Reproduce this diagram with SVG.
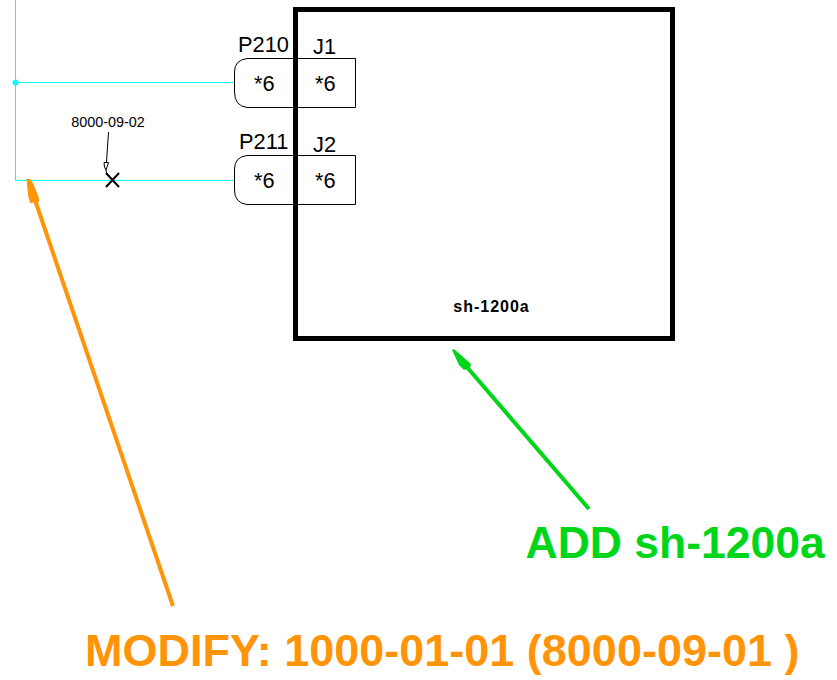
<svg xmlns="http://www.w3.org/2000/svg" width="837" height="680" viewBox="0 0 837 680">
<style>
text{font-family:"Liberation Sans",Arial,sans-serif;fill:#000}
.w{stroke:#00ffff;stroke-width:1;fill:none}
.b{stroke:#000;stroke-width:1;fill:none}
.l{font-size:21.800px}
.big{font-size:45px;font-weight:bold}
</style>
<rect width="837" height="680" fill="#fff"/>
<g id="connectors">
<path class="w" d="M15.500 0V180.500H234M15.500 82.500H234"/>
<circle cx="15.500" cy="82.500" r="3" fill="#00ffff"/>
<path class="b" d="M108.500 132L106.500 162"/>
<path class="b" d="M104 162.500H108.500L106 170 104.500 167Z"/>
<path class="b" d="M106 170L106.500 173"/>
<path d="M106 173L119 187M119 173L106 187" stroke="#000" stroke-width="2" fill="none"/>
</g>
<g id="sh-1200a">
<rect x="295.500" y="9.500" width="377" height="329" fill="none" stroke="#000" stroke-width="5"/>
<text x="491.500" y="312" text-anchor="middle" font-size="16" font-weight="bold" letter-spacing="1">sh-1200a</text>
</g>
<g id="P210">
<path class="b" d="M296 58.500H247Q234.500 60 234.500 72V92Q234.500 106 247 107.500H296"/>
<text class="l" x="238" y="51.500">P210</text>
<text class="l" x="254" y="90.500">*6</text>
</g>
<g id="J1">
<path class="b" d="M296 58.500H355.500V107.500H296"/>
<text class="l" x="313" y="54">J1</text>
<text class="l" x="315" y="90.500">*6</text>
</g>
<g id="P211">
<path class="b" d="M296 155.500H247Q234.500 157 234.500 169V190Q234.500 203 247 204.500H296"/>
<text class="l" x="239" y="149">P211</text>
<text class="l" x="254" y="188">*6</text>
</g>
<g id="J2">
<path class="b" d="M296 155.500H355.500V204.500H296"/>
<text class="l" x="313" y="151.500">J2</text>
<text class="l" x="315" y="188">*6</text>
</g>
<g id="label-8000-09-02">
<text x="108" y="127" text-anchor="middle" font-size="14.400">8000-09-02</text>
</g>
<g id="orange-arrow">
<path d="M173 606L35 200" stroke="#ff9408" stroke-width="4" fill="none"/>
<path d="M26.500 179H30L33 183 39 198V202L30 203 28 195Z" fill="#ff9408"/>
<text class="big" x="85" y="666" style="fill:#ff9408">MODIFY: 1000-01-01 (8000-09-01 )</text>
</g>
<g id="green-arrow">
<path d="M589 509L466 366" stroke="#00d619" stroke-width="4" fill="none"/>
<path d="M452 350L454 349 471 364 470 368 464 370 459 365Z" fill="#00d619"/>
<text class="big" x="525.500" y="558" font-size="44.500" style="fill:#00d619;font-size:44.500px">ADD sh-1200a</text>
</g>
</svg>
